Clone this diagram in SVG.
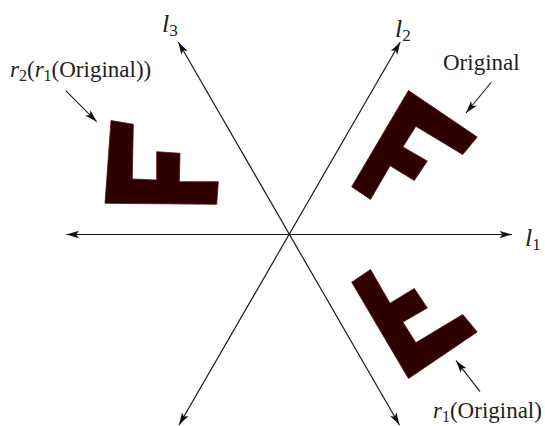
<svg xmlns="http://www.w3.org/2000/svg" width="545" height="426" viewBox="0 0 545 426">
  <style>
    .ax { stroke: #1a1a1a; stroke-width: 1.2; fill: none; marker-start: url(#ah); marker-end: url(#ah); }
    .ptr { stroke: #1a1a1a; stroke-width: 1.1; fill: none; marker-end: url(#ah); }
    .F { fill: #2e0000; stroke: #5a1010; stroke-width: 0.8; stroke-linejoin: miter; }
  </style>
  <defs>
    <marker id="ah" viewBox="0 0 13 9" refX="12.5" refY="4.5" markerWidth="13" markerHeight="9" markerUnits="userSpaceOnUse" orient="auto-start-reverse">
      <path d="M0,0.8 L12.5,4.5 L0,8.2 L3,4.5 Z" fill="#111"/>
    </marker>
    <polygon id="Fshape" points="105,203.3 111,120.5 133.3,124.3 132.3,179 156.7,180 156.7,151.7 180,153.3 179.3,181.7 218.3,181.7 216.7,204.3"/>
  </defs>

  <g id="connectors">
    <line class="ax" x1="66.5" y1="234.5" x2="512" y2="234.5"/>
    <line class="ax" x1="179" y1="425" x2="400.3" y2="42"/>
    <line class="ax" x1="399.5" y1="425" x2="178.3" y2="42"/>
    <line class="ptr" x1="491.5" y1="82" x2="466" y2="113"/>
    <line class="ptr" x1="65.7" y1="90.7" x2="96.7" y2="121.7"/>
    <line class="ptr" x1="480" y1="391.7" x2="456" y2="360.7"/>
  </g>

  <g id="axis-labels" font-family="Liberation Serif, DejaVu Serif, serif" font-size="26" fill="#222">
    <text x="525" y="246"><tspan font-style="italic">l</tspan><tspan font-size="17" dy="4">1</tspan></text>
    <text x="395" y="36.5"><tspan font-style="italic">l</tspan><tspan font-size="17" dy="4">2</tspan></text>
    <text x="162" y="32"><tspan font-style="italic">l</tspan><tspan font-size="17" dy="4">3</tspan></text>
  </g>

  <g id="original">
    <use href="#Fshape" class="F" transform="rotate(120 289.3 234.5)"/>
    <text x="443" y="70" font-family="Liberation Serif, DejaVu Serif, serif" font-size="23" fill="#222">Original</text>
  </g>

  <g id="r1-original">
    <use href="#Fshape" class="F" transform="matrix(1 0 0 -1 0 469) rotate(120 289.3 234.5)"/>
    <text x="433" y="418" font-family="Liberation Serif, DejaVu Serif, serif" font-size="23" fill="#222"><tspan font-style="italic">r</tspan><tspan font-size="16" dy="4">1</tspan><tspan dy="-4">(Original)</tspan></text>
  </g>

  <g id="r2-r1-original">
    <use href="#Fshape" class="F"/>
    <text x="10" y="77" font-family="Liberation Serif, DejaVu Serif, serif" font-size="23" fill="#222"><tspan font-style="italic">r</tspan><tspan font-size="16" dy="4">2</tspan><tspan dy="-4">(</tspan><tspan font-style="italic">r</tspan><tspan font-size="16" dy="4">1</tspan><tspan dy="-4">(Original))</tspan></text>
  </g>
</svg>
